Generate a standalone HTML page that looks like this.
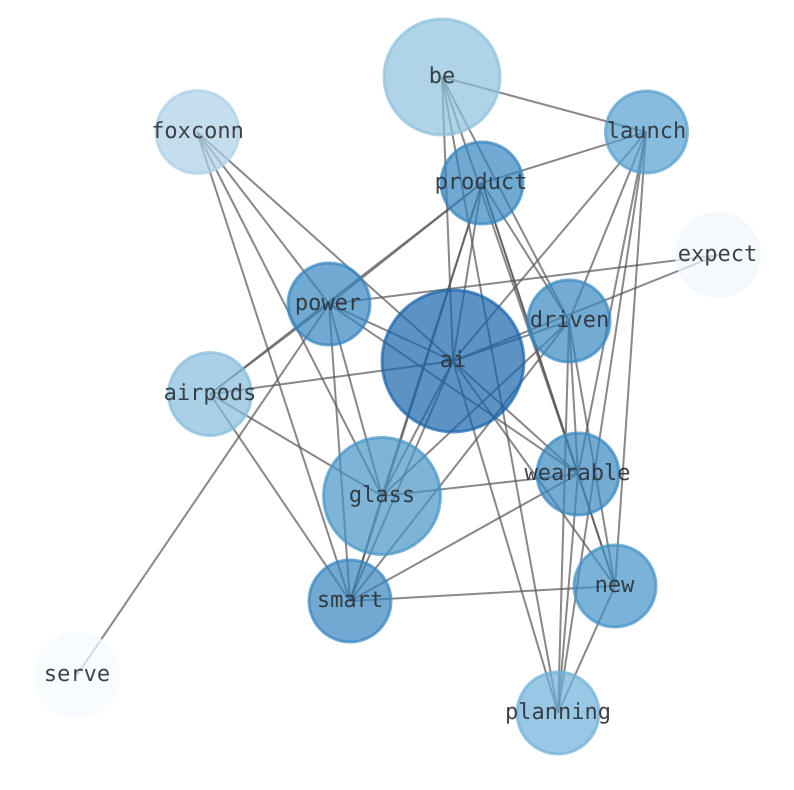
<!DOCTYPE html>
<html>
<head>
<meta charset="utf-8">
<style>
html,body{margin:0;padding:0;background:#fff;}
svg{display:block;}
text{font-family:"DejaVu Sans Mono","Liberation Mono",monospace;font-size:22px;fill:#2b2f33;fill-opacity:.9;text-anchor:middle;text-rendering:geometricPrecision;}
circle{fill-opacity:.7;stroke-opacity:.7;stroke-width:3;}
</style>
</head>
<body>
<svg width="794" height="790" viewBox="0 0 794 790" xmlns="http://www.w3.org/2000/svg">
<g stroke="#555" stroke-opacity=".7" stroke-width="2" fill="none">
<!-- be -->
<line x1="442" y1="77" x2="646" y2="132"/>
<line x1="442" y1="77" x2="453" y2="361"/>
<line x1="442" y1="77" x2="569" y2="321"/>
<line x1="442" y1="77" x2="578" y2="474"/>
<line x1="442" y1="77" x2="558" y2="713"/>
<!-- foxconn -->
<line x1="197" y1="132" x2="453" y2="361"/>
<line x1="197" y1="132" x2="329" y2="304"/>
<line x1="197" y1="132" x2="382" y2="496"/>
<line x1="197" y1="132" x2="350" y2="601"/>
<!-- launch -->
<line x1="646" y1="132" x2="482" y2="183"/>
<line x1="646" y1="132" x2="453" y2="361"/>
<line x1="646" y1="132" x2="569" y2="321"/>
<line x1="646" y1="132" x2="578" y2="474"/>
<line x1="646" y1="132" x2="615" y2="586"/>
<line x1="646" y1="132" x2="558" y2="713"/>
<!-- product -->
<line x1="482" y1="183" x2="329" y2="304"/>
<line x1="482" y1="183" x2="210" y2="394"/>
<line x1="482" y1="183" x2="453" y2="361"/>
<line x1="482" y1="183" x2="569" y2="321"/>
<line x1="482" y1="183" x2="382" y2="496"/>
<line x1="482" y1="183" x2="350" y2="601"/>
<line x1="482" y1="183" x2="578" y2="474"/>
<line x1="482" y1="183" x2="615" y2="586"/>
<!-- expect -->
<line x1="718" y1="255" x2="329" y2="304"/>
<line x1="718" y1="255" x2="453" y2="361"/>
<!-- power -->
<line x1="329" y1="304" x2="210" y2="394"/>
<line x1="329" y1="304" x2="453" y2="361"/>
<line x1="329" y1="304" x2="578" y2="474"/>
<line x1="329" y1="304" x2="382" y2="496"/>
<line x1="329" y1="304" x2="350" y2="601"/>
<line x1="329" y1="304" x2="77" y2="675"/>
<!-- ai -->
<line x1="453" y1="361" x2="210" y2="394"/>
<line x1="453" y1="361" x2="569" y2="321"/>
<line x1="453" y1="361" x2="382" y2="496"/>
<line x1="453" y1="361" x2="350" y2="601"/>
<line x1="453" y1="361" x2="578" y2="474"/>
<line x1="453" y1="361" x2="615" y2="586"/>
<line x1="453" y1="361" x2="558" y2="713"/>
<!-- driven -->
<line x1="569" y1="321" x2="382" y2="496"/>
<line x1="569" y1="321" x2="350" y2="601"/>
<line x1="569" y1="321" x2="578" y2="474"/>
<line x1="569" y1="321" x2="615" y2="586"/>
<line x1="569" y1="321" x2="558" y2="713"/>
<!-- airpods -->
<line x1="210" y1="394" x2="382" y2="496"/>
<line x1="210" y1="394" x2="350" y2="601"/>
<!-- glass -->
<line x1="382" y1="496" x2="578" y2="474"/>
<line x1="382" y1="496" x2="350" y2="601"/>
<!-- wearable -->
<line x1="578" y1="474" x2="350" y2="601"/>
<line x1="578" y1="474" x2="615" y2="586"/>
<line x1="578" y1="474" x2="558" y2="713"/>
<!-- smart / new -->
<line x1="350" y1="601" x2="615" y2="586"/>
<line x1="615" y1="586" x2="558" y2="713"/>
</g>
<circle cx="442" cy="77" r="58" fill="rgb(141,192,221)" stroke="rgb(141,192,221)"/>
<circle cx="197.500" cy="132" r="41.500" fill="rgb(173,208,230)" stroke="rgb(173,208,230)"/>
<circle cx="646.500" cy="132" r="41" fill="rgb(85,160,208)" stroke="rgb(85,160,208)"/>
<circle cx="482" cy="183" r="41" fill="rgb(51,133,191)" stroke="rgb(51,133,191)"/>
<circle cx="718" cy="255" r="41.500" fill="rgb(239,246,252)" stroke="rgb(239,246,252)"/>
<circle cx="329" cy="304" r="41" fill="rgb(51,133,191)" stroke="rgb(51,133,191)"/>
<circle cx="453" cy="361" r="71" fill="rgb(23,100,171)" stroke="rgb(23,100,171)"/>
<circle cx="569" cy="321" r="41" fill="rgb(55,136,193)" stroke="rgb(55,136,193)"/>
<circle cx="210" cy="394" r="41.500" fill="rgb(132,188,219)" stroke="rgb(132,188,219)"/>
<circle cx="382" cy="496" r="58.500" fill="rgb(70,148,200)" stroke="rgb(70,148,200)"/>
<circle cx="578" cy="474" r="41" fill="rgb(55,136,193)" stroke="rgb(55,136,193)"/>
<circle cx="350" cy="601" r="41" fill="rgb(54,133,191)" stroke="rgb(54,133,191)"/>
<circle cx="615" cy="586" r="41" fill="rgb(66,146,199)" stroke="rgb(66,146,199)"/>
<circle cx="77" cy="675" r="42" fill="rgb(247,251,255)" stroke="rgb(247,251,255)"/>
<circle cx="558" cy="713" r="41" fill="rgb(110,176,216)" stroke="rgb(110,176,216)"/>
<text x="442" y="83">be</text>
<text x="197.500" y="138">foxconn</text>
<text x="646.500" y="138">launch</text>
<text x="481" y="189">product</text>
<text x="717.500" y="261">expect</text>
<text x="328" y="310">power</text>
<text x="453" y="367">ai</text>
<text x="569.500" y="327">driven</text>
<text x="210" y="400">airpods</text>
<text x="382" y="502">glass</text>
<text x="577.500" y="480">wearable</text>
<text x="350" y="607">smart</text>
<text x="614.500" y="592">new</text>
<text x="77" y="681">serve</text>
<text x="558" y="719">planning</text>
</svg>
</body>
</html>
